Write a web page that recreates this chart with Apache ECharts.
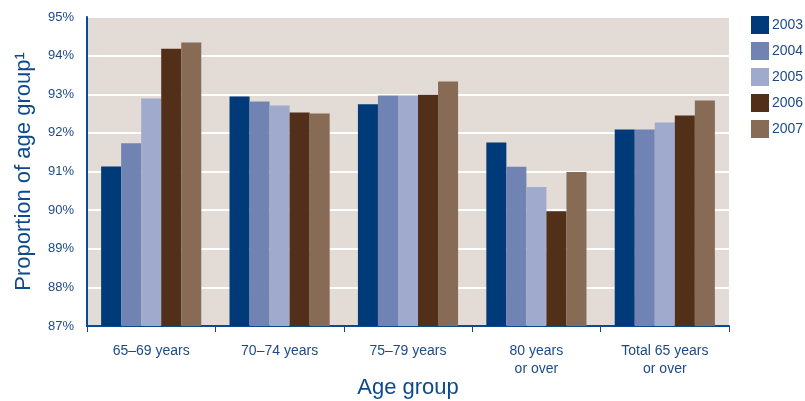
<!DOCTYPE html>
<html>
<head>
<meta charset="utf-8">
<script src="https://cdn.jsdelivr.net/npm/echarts@6/dist/echarts.min.js"></script>
<style>
html,body{margin:0;padding:0;background:#ffffff;}
#chart{width:805px;height:401px;}
</style>
</head>
<body>
<div id="chart"></div>
<script>
var categories = ['65–69 years', '70–74 years', '75–79 years', '80 years\nor over', 'Total 65 years\nor over'];
var years = ['2003', '2004', '2005', '2006', '2007'];
var v2003 = [91.13, 92.94, 92.74, 91.75, 92.09];
var v2004 = [91.73, 92.81, 92.97, 91.12, 92.09];
var v2005 = [92.89, 92.71, 92.97, 90.60, 92.27];
var v2006 = [94.18, 92.53, 92.99, 89.97, 92.45];
var v2007 = [94.34, 92.50, 93.33, 90.99, 92.84];
var yTicks = [87, 88, 89, 90, 91, 92, 93, 94, 95];

var seriesValues = [v2003, v2004, v2005, v2006, v2007];
var colors = ['#003a78', '#7083b2', '#a0aacd', '#512f19', '#876b55'];
var textColor = '#1c4a87';
var axisColor = '#0b4a8e';
var font = "'Liberation Sans', Arial, sans-serif";

var chart = echarts.init(document.getElementById('chart'), null, {renderer: 'canvas'});
chart.setOption({
  animation: false,
  color: colors,
  grid: {
    left: 87, right: 76, top: 17, bottom: 75,
    outerBoundsMode: 'none',
    containLabel: false,
    show: true, backgroundColor: '#e2dbd6', borderWidth: 0
  },
  legend: {
    orient: 'vertical',
    left: 751, top: 16,
    padding: 0,
    itemWidth: 18, itemHeight: 18, itemGap: 8,
    icon: 'rect',
    data: years,
    textStyle: {color: textColor, fontFamily: font, fontSize: 14, padding: [0, 0, 0, -2]}
  },
  xAxis: {
    type: 'category',
    data: categories,
    name: 'Age group',
    nameLocation: 'middle',
    nameGap: 62,
    nameMoveOverlap: false,
    nameTextStyle: {color: '#0d4a8c', fontFamily: font, fontSize: 22, verticalAlign: 'middle'},
    axisLine: {show: true, lineStyle: {color: axisColor, width: 2}},
    axisTick: {show: true, length: 6, lineStyle: {color: axisColor, width: 1}},
    axisLabel: {color: textColor, fontFamily: font, fontSize: 14, margin: 16, lineHeight: 18},
    splitLine: {show: false}
  },
  yAxis: {
    type: 'value',
    min: yTicks[0], max: yTicks[yTicks.length - 1], interval: 1,
    name: 'Proportion of age group¹',
    nameLocation: 'middle',
    nameGap: 52,
    nameMoveOverlap: false,
    nameTextStyle: {color: '#0d4a8c', fontFamily: font, fontSize: 22},
    axisLine: {show: true, lineStyle: {color: axisColor, width: 2}},
    axisTick: {show: false},
    axisLabel: {color: textColor, fontFamily: font, fontSize: 13, margin: 13,
      formatter: function (v) { return v + '%'; }},
    splitLine: {show: true, lineStyle: {color: '#ffffff', width: 2}}
  },
  series: years.map(function (y, i) {
    return {
      name: y,
      type: 'bar',
      data: seriesValues[i],
      barGap: '0%',
      barCategoryGap: '22%',
      itemStyle: {color: colors[i]}
    };
  })
});
</script>
</body>
</html>
